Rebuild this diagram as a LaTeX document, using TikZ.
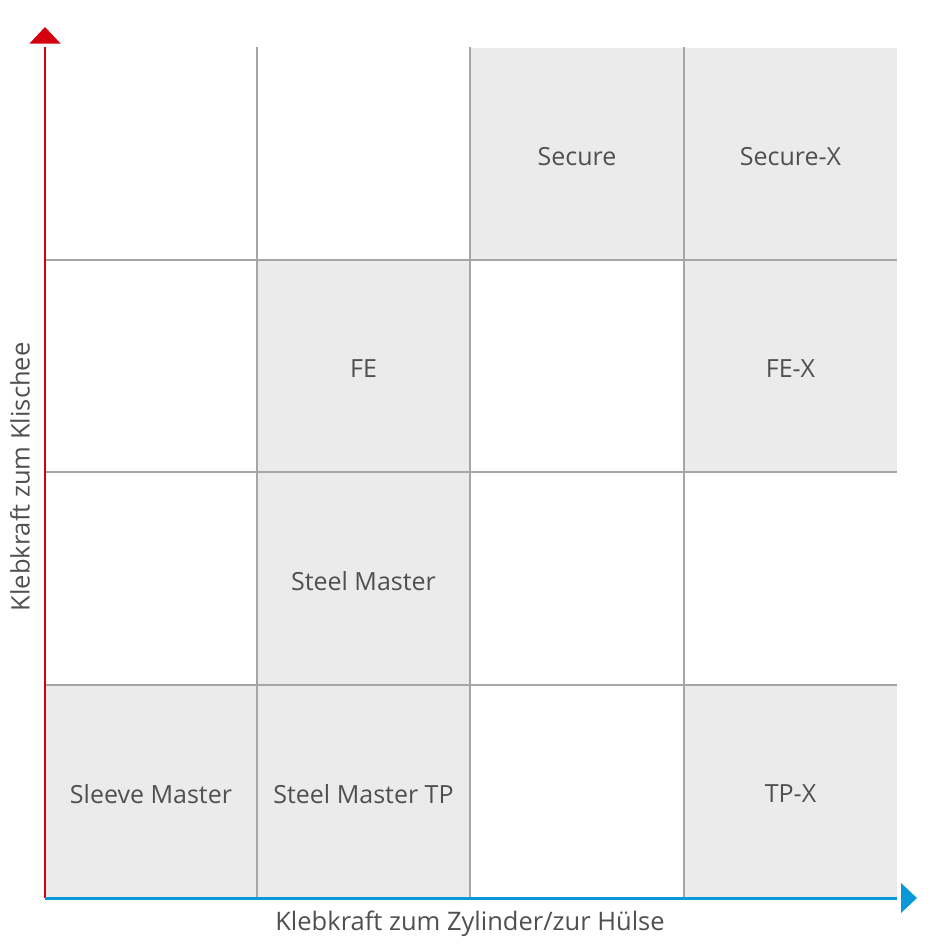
\documentclass[tikz,border=0pt]{standalone}
\usepackage{fontspec}
\setmainfont{Open Sans}
\definecolor{cellgray}{HTML}{EBEBEB}
\definecolor{gridgray}{HTML}{A6A6A6}
\definecolor{axred}{HTML}{D5000F}
\definecolor{axblue}{HTML}{0B98D8}
\definecolor{txtgray}{HTML}{505050}
\begin{document}
\begin{tikzpicture}[x=1pt,y=-1pt,
  cell/.style={minimum width=212pt,minimum height=212pt,inner sep=0pt,anchor=center},
  filled/.style={cell,fill=cellgray},
  celltext/.style={label={[text=txtgray,font=\fontsize{25}{29}\selectfont,inner sep=0pt,yshift=-3pt]center:#1}},
  gridline/.style={draw=gridgray,line width=1.6pt},
  axlabel/.style={text=txtgray,font=\fontsize{25.5}{29}\selectfont,inner sep=0pt}]
\useasboundingbox (0,0) rectangle (928,948);
\fill[white] (0,0) rectangle (928,948);
% cells (row 1 top)
\node[cell]   (c11) at (151,153.5) {};
\node[cell]   (c12) at (363.5,153.5) {};
\node[filled,celltext=Secure] (c13) at (577,153.5) {};
\node[filled,celltext=Secure-X] (c14) at (790.5,153.5) {};
\node[cell]   (c21) at (151,366) {};
\node[filled,celltext=FE] (c22) at (363.5,366) {};
\node[cell]   (c23) at (577,366) {};
\node[filled,celltext=FE-X] (c24) at (790.5,366) {};
\node[cell]   (c31) at (151,578.5) {};
\node[filled,celltext=Steel Master] (c32) at (363.5,578.5) {};
\node[cell]   (c33) at (577,578.5) {};
\node[cell]   (c34) at (790.5,578.5) {};
\node[filled,celltext=Sleeve Master] (c41) at (151,791) {};
\node[filled,celltext=Steel Master TP] (c42) at (363.5,791) {};
\node[cell]   (c43) at (577,791) {};
\node[filled,celltext=TP-X] (c44) at (790.5,791) {};
% grid lines
\foreach \x in {257,470,684} \draw[gridline] (\x,47) -- (\x,897);
\foreach \y in {260,472,685} \draw[gridline] (45,\y) -- (897,\y);
% axes
\coordinate (origin) at (45,898);
\coordinate (ytop) at (45,47);
\coordinate (xend) at (897,898);
\draw[axred,line width=2.6pt] (origin) -- (ytop);
\fill[axred] (29.5,43.5) -- (45,27) -- (60.5,43.5) -- cycle;
\draw[axblue,line width=3pt] (origin) -- (xend);
\fill[axblue] (901,883) -- (917,898) -- (901,913) -- cycle;
% axis labels
\node[axlabel] (xlab) at (470,924) {Klebkraft zum Zylinder/zur Hülse};
\node[axlabel,rotate=90] (ylab) at (20,477) {Klebkraft zum Klischee};
\end{tikzpicture}
\end{document}
